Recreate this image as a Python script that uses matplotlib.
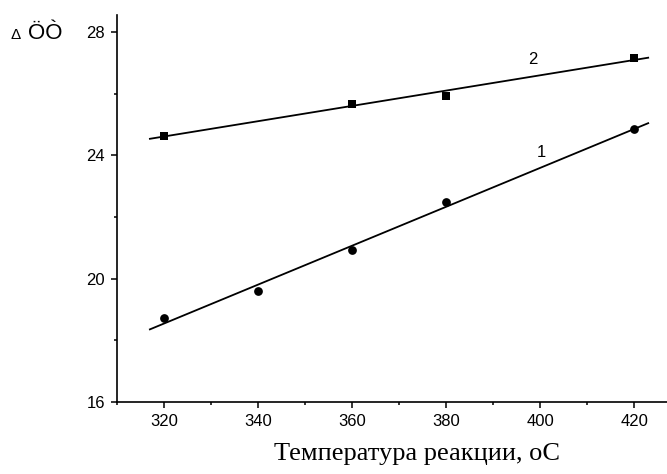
import numpy as np
import matplotlib
matplotlib.use("Agg")
import matplotlib.pyplot as plt
from matplotlib.ticker import MultipleLocator

# Data
temp_1 = [320, 340, 360, 380, 420]
val_1 = [18.73, 19.60, 20.94, 22.49, 24.86]
temp_2 = [320, 360, 380, 420]
val_2 = [24.64, 25.68, 25.94, 27.17]

x_label = "Температура реакции, оС"
curve_labels = ["1", "2"]

plt.rcParams["font.family"] = ["Liberation Sans", "DejaVu Sans"]

fig = plt.figure(figsize=(6.67, 4.74), dpi=100)
ax = fig.add_axes([0.1754, 0.1519, 0.8246, 0.8165])

# linear fits through the points
fit_x = np.array([317, 423])
for t, v in [(temp_1, val_1), (temp_2, val_2)]:
    k, b = np.polyfit(t, v, 1)
    ax.plot(fit_x, k * fit_x + b, color="black", lw=1.3)

ax.plot(temp_1, val_1, "o", color="black", ms=6.3, mew=0)
ax.plot(temp_2, val_2, "s", color="black", ms=6, mew=0)

ax.text(400.2, 24.1, curve_labels[0], fontsize=12, ha="center", va="center")
ax.text(398.5, 27.1, curve_labels[1], fontsize=12, ha="center", va="center")

ax.set_xlim(310, 427)
ax.set_ylim(16, 28.56)
ax.xaxis.set_major_locator(MultipleLocator(20))
ax.xaxis.set_minor_locator(MultipleLocator(10))
ax.yaxis.set_major_locator(MultipleLocator(4))
ax.yaxis.set_minor_locator(MultipleLocator(2))

for side in ["top", "right"]:
    ax.spines[side].set_visible(False)
for side in ["left", "bottom"]:
    ax.spines[side].set_linewidth(1.2)

ax.tick_params(which="major", direction="out", length=4.5, width=1.1,
               labelsize=12, pad=4)
ax.tick_params(which="minor", direction="out", length=2.5, width=1.1)

ax.set_xlabel(x_label, family="Liberation Serif", fontsize=19)
ax.xaxis.set_label_coords(0.545, -0.105)

# y axis title in the top left corner
fig.text(0.016, 0.9177, "Δ", fontsize=11, ha="left", va="baseline")
fig.text(0.042, 0.9177, "ÖÒ", fontsize=16, ha="left", va="baseline")

fig.savefig("out.png", dpi=100)
